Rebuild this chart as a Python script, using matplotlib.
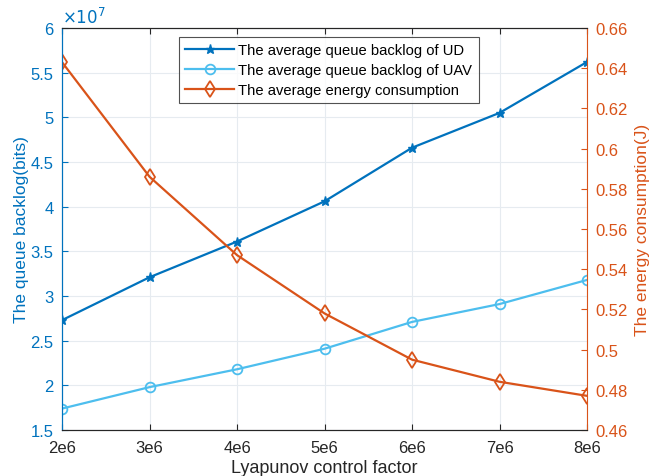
import matplotlib
matplotlib.use('Agg')
import matplotlib.pyplot as plt
from matplotlib.ticker import FuncFormatter

plt.rcParams['font.family'] = ['Liberation Sans', 'DejaVu Sans']

# Lyapunov control factor V
V = [2e6, 3e6, 4e6, 5e6, 6e6, 7e6, 8e6]
V_labels = ['2e6', '3e6', '4e6', '5e6', '6e6', '7e6', '8e6']

# average queue backlog (bits)
backlog_ud = [2.73e7, 3.21e7, 3.61e7, 4.06e7, 4.66e7, 5.05e7, 5.62e7]
backlog_uav = [1.74e7, 1.98e7, 2.18e7, 2.41e7, 2.71e7, 2.91e7, 3.18e7]

# average energy consumption (J)
energy = [0.643, 0.586, 0.547, 0.518, 0.495, 0.484, 0.477]

c_ud = '#0072BD'
c_uav = '#4DBEEE'
c_en = '#D95319'

fig = plt.figure(figsize=(6.53, 4.77), dpi=100)
ax = fig.add_axes([0.095, 0.0964, 0.804, 0.8428])
ax2 = ax.twinx()

l1, = ax.plot(V, backlog_ud, '-', color=c_ud, lw=1.6, marker='*', ms=6.5,
              mec=c_ud, mfc=c_ud, label='The average queue backlog of UD')
l2, = ax.plot(V, backlog_uav, '-', color=c_uav, lw=1.6, marker='o', ms=7,
              mec=c_uav, mfc='none', mew=1.3, label='The average queue backlog of UAV')
l3, = ax2.plot(V, energy, '-', color=c_en, lw=1.6, marker='d', ms=8,
               mec=c_en, mfc='none', mew=1.3, label='The average energy consumption')

ax.set_xlim(2e6, 8e6)
ax.set_xticks(V)
ax.set_xticklabels(V_labels)
ax.set_ylim(1.5e7, 6e7)
ax.set_yticks([1.5e7 + 0.5e7 * i for i in range(10)])
ax.yaxis.set_major_formatter(FuncFormatter(lambda v, p: '%g' % round(v / 1e7, 2)))
ax2.set_ylim(0.46, 0.66)
ax2.set_yticks([0.46 + 0.02 * i for i in range(11)])
ax2.yaxis.set_major_formatter(FuncFormatter(lambda v, p: '%g' % round(v, 2)))

ax.grid(True, color='#e6ebf0', lw=0.8)
ax.set_axisbelow(True)

for a in (ax, ax2):
    a.tick_params(direction='in', length=4, labelsize=12)
ax.tick_params(axis='x', colors='#262626', top=True, pad=7)
ax.tick_params(axis='y', colors=c_ud, pad=6)
ax2.tick_params(axis='y', colors=c_en, pad=6)

ax.spines['left'].set_color(c_ud)
ax2.spines['left'].set_color(c_ud)
ax2.spines['right'].set_color(c_en)
for a in (ax, ax2):
    a.spines['top'].set_color('#262626')
    a.spines['bottom'].set_color('#262626')
    a.spines['right'].set_visible(a is ax2)

ax.set_xlabel('Lyapunov control factor', fontsize=13, color='#262626', labelpad=3)
ax.set_ylabel('The queue backlog(bits)', fontsize=12.5, color=c_ud, labelpad=1)
ax2.set_ylabel('The energy consumption(J)', fontsize=12.5, color=c_en, labelpad=5)

ax.text(0.0, 1.005, r'$\times10^{7}$', transform=ax.transAxes, color=c_ud,
        fontsize=12, ha='left', va='bottom')

leg = ax2.legend(handles=[l1, l2, l3], loc='upper left',
                 bbox_to_anchor=(0.222, 0.978), fontsize=10.6, frameon=True,
                 fancybox=False, edgecolor='#262626', handlelength=3.3,
                 handletextpad=0.3, borderaxespad=0, labelspacing=0.38,
                 borderpad=0.45)
leg.get_frame().set_linewidth(0.8)

fig.savefig('out.png', dpi=100)
